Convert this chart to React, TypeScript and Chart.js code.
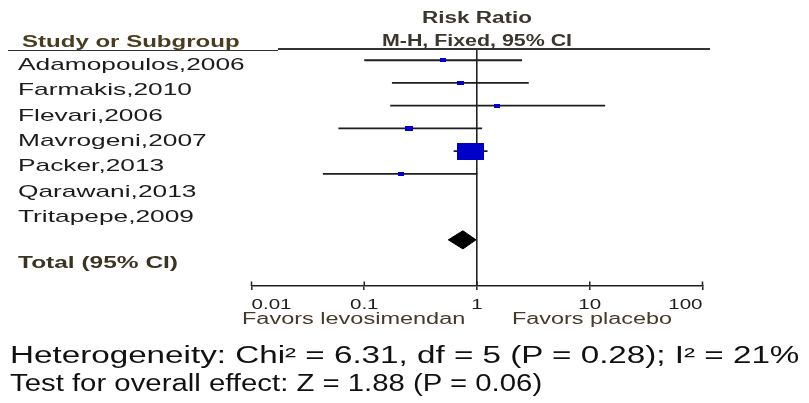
import React, { useEffect, useRef } from "react";
import { Chart, registerables } from "chart.js";

Chart.register(...registerables);

// ---------- data ----------
const studies = [
  "Adamopoulos,2006",
  "Farmakis,2010",
  "Flevari,2006",
  "Mavrogeni,2007",
  "Packer,2013",
  "Qarawani,2013",
  "Tritapepe,2009",
];
const riskRatio: (number | null)[] = [0.5, 0.71, 1.5, 0.25, 0.88, 0.21, null];
const ciLower: (number | null)[] = [0.1, 0.176, 0.17, 0.059, 0.62, 0.043, null];
const ciUpper: (number | null)[] = [2.51, 2.88, 13.7, 1.11, 1.24, 1.01, null];
const weights = [4.0, 4.5, 3.5, 6.8, 77.2, 4.0, 0];
const totalRR = 0.75;
const totalLower = 0.556;
const totalUpper = 0.98;
const tickValues = [0.01, 0.1, 1, 10, 100];
const tickLabels = ["0.01", "0.1", "1", "10", "100"];
const header1 = "Risk Ratio";
const header2 = "M-H, Fixed, 95% CI";
const studyHeader = "Study or Subgroup";
const totalLabel = "Total (95% CI)";
const favorsLeft = "Favors levosimendan";
const favorsRight = "Favors placebo";
const heterogeneity = "Heterogeneity: Chi\u00B2 = 6.31, df = 5 (P = 0.28); I\u00B2 = 21%";
const overallEffect = "Test for overall effect: Z = 1.88 (P = 0.06)";

// ---------- layout constants ----------
const W = 809;
const H = 403;
const TOTAL_ROW = 7.9;
const DIAMOND_HALF = 0.4;
const FONT = '"Liberation Sans", Arial, sans-serif';

const measureCanvas = document.createElement("canvas");
const mctx = measureCanvas.getContext("2d") as CanvasRenderingContext2D;
function textWidth(text: string, size: number, bold: boolean) {
  mctx.font = `${bold ? "bold" : "normal"} ${size}px ${FONT}`;
  return mctx.measureText(text).width;
}

function Label(props: {
  text: string;
  x0: number;
  x1?: number;
  scale?: number;
  baseline: number;
  size: number;
  bold?: boolean;
  color: string;
}) {
  const { text, x0, x1, baseline, size, bold, color } = props;
  const w = textWidth(text, size, !!bold);
  const s = props.scale ?? ((x1 as number) - x0) / w;
  return (
    <div
      style={{
        position: "absolute",
        left: x0,
        top: baseline - 0.8465 * size,
        fontFamily: FONT,
        fontWeight: bold ? "bold" : "normal",
        fontSize: size,
        lineHeight: `${size}px`,
        whiteSpace: "nowrap",
        color,
        transform: `scaleX(${s})`,
        transformOrigin: "0 0",
      }}
    >
      {text}
    </div>
  );
}

function boxCanvas(weight: number) {
  const k = 1.935;
  const h = Math.max(2, Math.round(Math.sqrt(weight) * k));
  const w = Math.max(3, Math.round(Math.sqrt(weight) * k * 1.6));
  const c = document.createElement("canvas");
  c.width = w;
  c.height = h;
  const g = c.getContext("2d") as CanvasRenderingContext2D;
  g.fillStyle = "#0000c8";
  g.fillRect(0, 0, w, h);
  return c;
}

// tick stubs above the axis line and horizontally stretched tick labels,
// placed from the x scale's own tick pixels
const axisDecor = {
  id: "axisDecor",
  afterDraw(chart: any) {
    const sx = chart.scales.x;
    const b = chart.chartArea.bottom;
    const ctx = chart.ctx;
    ctx.save();
    ctx.strokeStyle = "#222";
    ctx.lineWidth = 1.5;
    ctx.beginPath();
    for (const t of sx.ticks) {
      const px = sx.getPixelForValue(t.value);
      ctx.moveTo(px, b - 4.5);
      ctx.lineTo(px, b);
    }
    ctx.stroke();

    ctx.font = `15px ${FONT}`;
    ctx.fillStyle = "#1e1e1e";
    ctx.textAlign = "left";
    ctx.textBaseline = "alphabetic";
    const s = 40 / ctx.measureText(tickLabels[0]).width;
    const n = sx.ticks.length;
    sx.ticks.forEach((t: any, i: number) => {
      const label = tickLabels[i];
      const px = sx.getPixelForValue(t.value);
      const w = ctx.measureText(label).width * s;
      const x0 = i === 0 ? px : i === n - 1 ? px - w : px - w / 2;
      ctx.save();
      ctx.translate(x0, b + 22.5);
      ctx.scale(s, 1);
      ctx.fillText(label, 0, 0);
      ctx.restore();
    });
    ctx.restore();
  },
};

export default function App() {
  const ref = useRef<HTMLCanvasElement | null>(null);

  useEffect(() => {
    if (!ref.current) return;
    const pointData: any[] = [];
    const pointStyles: any[] = [];
    studies.forEach((_, i) => {
      if (riskRatio[i] != null && weights[i] > 0) {
        pointData.push({ x: riskRatio[i], y: i });
        pointStyles.push(boxCanvas(weights[i]));
      }
    });
    const ciSets: any[] = [];
    studies.forEach((_, i) => {
      if (ciLower[i] == null || ciUpper[i] == null) return;
      ciSets.push({
        type: "line",
        data: [
          { x: ciLower[i], y: i },
          { x: ciUpper[i], y: i },
        ],
        borderColor: "#1e1e1e",
        borderWidth: 1.8,
        pointRadius: 0,
        fill: false,
        order: 2,
      });
    });
    const datasets: any[] = [
      {
        type: "scatter",
        data: pointData,
        pointStyle: pointStyles,
        pointRadius: 3,
        order: 0,
      },
      {
        type: "line",
        data: [
          { x: totalLower, y: TOTAL_ROW },
          { x: totalRR, y: TOTAL_ROW - DIAMOND_HALF },
          { x: totalUpper, y: TOTAL_ROW },
          { x: totalRR, y: TOTAL_ROW + DIAMOND_HALF },
          { x: totalLower, y: TOTAL_ROW },
        ],
        borderColor: "#000",
        backgroundColor: "#000",
        borderWidth: 1,
        pointRadius: 0,
        fill: "shape",
        tension: 0,
        order: 1,
      },
      ...ciSets,
    ];

    const chart = new Chart(ref.current, {
      type: "scatter",
      data: { datasets },
      options: {
        responsive: false,
        animation: false,
        events: [],
        layout: { padding: { left: 251.5, right: 106.5, top: 50, bottom: 0 } },
        plugins: {
          legend: { display: false },
          tooltip: { enabled: false },
        },
        scales: {
          x: {
            type: "logarithmic",
            position: "bottom",
            min: 0.01,
            max: 100,
            afterBuildTicks: (s: any) => {
              s.ticks = tickValues.map((v) => ({ value: v }));
            },
            afterFit: (s: any) => {
              s.height = H - 286;
            },
            ticks: {
              display: false,
              callback: (_v: any, idx: number) => tickLabels[idx],
              autoSkip: false,
              maxRotation: 0,
            },
            grid: {
              drawOnChartArea: true,
              color: (c: any) =>
                c.tick && c.tick.value === 1 ? "#222" : "rgba(0,0,0,0)",
              lineWidth: 1.6,
              tickColor: "#222",
              tickLength: 4,
              tickWidth: 1.5,
            },
            border: { display: true, color: "#222", width: 1.6 },
          },
          y: {
            type: "linear",
            display: false,
            min: -0.45,
            max: 9.93,
            reverse: true,
          },
        },
      } as any,
      plugins: [axisDecor],
    });
    return () => chart.destroy();
  }, []);

  const studyScale = (245 - 18.3) / textWidth(studies[0], 17, false);

  return (
    <div
      style={{
        position: "absolute",
        left: 0,
        top: 0,
        width: W,
        height: H,
        background: "#fff",
        overflow: "hidden",
      }}
    >
      <canvas
        ref={ref}
        width={W}
        height={H}
        style={{ position: "absolute", left: 0, top: 0, width: W, height: H }}
      />
      {/* header rules */}
      <div style={{ position: "absolute", left: 8, top: 49.5, width: 270, height: 1.8, background: "#333" }} />
      <div style={{ position: "absolute", left: 278, top: 48, width: 432, height: 1.8, background: "#333" }} />

      <Label text={header1} x0={421.7} x1={531.7} baseline={24} size={16} bold color="#3c372e" />
      <Label text={header2} x0={381.7} x1={571.7} baseline={46.7} size={16} bold color="#3c372e" />
      <Label text={studyHeader} x0={21.7} x1={239.3} baseline={47.7} size={16} bold color="#4a3c1f" />

      {studies.map((s, i) => (
        <Label
          key={s}
          text={s}
          x0={18.3}
          scale={studyScale}
          baseline={70 + 25.45 * i}
          size={17}
          color="#1c1c1c"
        />
      ))}
      <Label text={totalLabel} x0={18.3} x1={178.3} baseline={269} size={16} bold color="#3b3323" />

      <Label text={favorsLeft} x0={241.7} x1={465} baseline={325} size={16} color="#45392b" />
      <Label text={favorsRight} x0={511.7} x1={671.7} baseline={325} size={16} color="#45392b" />

      <Label text={heterogeneity} x0={10} x1={800} baseline={363.3} size={23} color="#111" />
      <Label text={overallEffect} x0={10} x1={542.7} baseline={391.7} size={23} color="#111" />
    </div>
  );
}
